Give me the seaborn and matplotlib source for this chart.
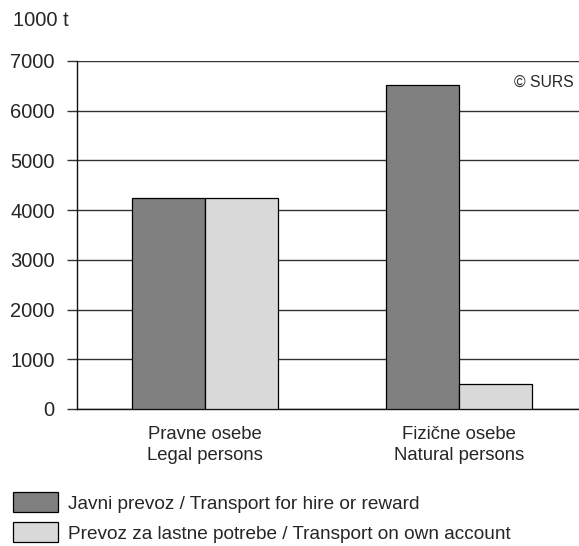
import matplotlib
matplotlib.use("Agg")
import matplotlib.pyplot as plt
import seaborn as sns
import pandas as pd
from matplotlib.patches import Patch

categories = ["Pravne osebe\nLegal persons", "Fizične osebe\nNatural persons"]
series = ["Javni prevoz / Transport for hire or reward",
          "Prevoz za lastne potrebe / Transport on own account"]
hire_values = [4250, 6520]
own_values = [4250, 510]
colors = ["#808080", "#d9d9d9"]
yticks = [0, 1000, 2000, 3000, 4000, 5000, 6000, 7000]

df = pd.DataFrame({
    "category": categories * 2,
    "series": [series[0]] * 2 + [series[1]] * 2,
    "value": hire_values + own_values,
})

sns.set_style("white")
plt.rcParams["font.family"] = ["Liberation Sans", "DejaVu Sans"]

fig = plt.figure(figsize=(5.79, 5.46), dpi=100)
ax = fig.add_axes([77 / 579, 1 - 409 / 546, 1 - 77 / 579, 348 / 546])

sns.barplot(data=df, x="category", y="value", hue="series", palette=colors,
            width=0.575, edgecolor="black", linewidth=0.9, saturation=1,
            legend=False, ax=ax, zorder=3)

ax.set_ylim(0, 7000)
ax.set_xlim(-0.504, 1.472)
ax.set_yticks(yticks)
ax.set_yticklabels([str(t) for t in yticks], fontsize=14.5)
ax.tick_params(axis="x", labelsize=13.3, length=0, pad=12)
ax.tick_params(axis="y", length=7, width=1, color="#333333", pad=9, left=True)
ax.set_xlabel("")
ax.set_ylabel("")
ax.yaxis.grid(True, color="#333333", linewidth=1, zorder=0)
ax.set_axisbelow(True)

for side in ["top", "right"]:
    ax.spines[side].set_visible(False)
ax.spines["left"].set_color("#111111")
ax.spines["bottom"].set_color("#111111")
ax.spines["left"].set_linewidth(1)
ax.spines["bottom"].set_linewidth(1)

for lbl in ax.get_xticklabels():
    lbl.set_linespacing(1.3)

fig.text(13 / 579, 1 - 21 / 546, "1000 t", fontsize=14.5, va="center", ha="left")
fig.text(574 / 579, 1 - 82 / 546, "© SURS", fontsize=11.3, va="center", ha="right")

handles = [Patch(facecolor=c, edgecolor="black", linewidth=0.9) for c in colors]
fig.legend(handles, series, loc="upper left", bbox_to_anchor=(13 / 579, 1 - 492 / 546),
           frameon=False, fontsize=13.7, handlelength=2.37, handleheight=1.26,
           handletextpad=0.5, labelspacing=0.5, borderpad=0, borderaxespad=0)

fig.savefig("out.png", dpi=100)
